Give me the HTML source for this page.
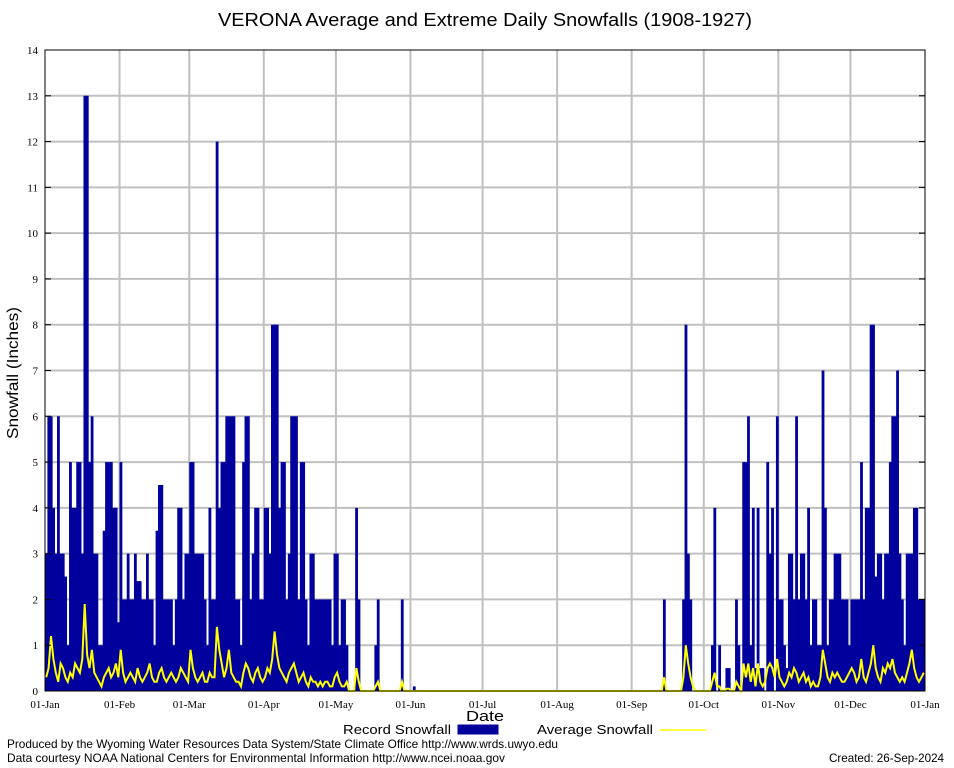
<!DOCTYPE html>
<html><head><meta charset="utf-8"><style>
body{margin:0;background:#fff;width:954px;height:768px;overflow:hidden}
svg{display:block;font-family:"Liberation Sans",sans-serif}
.tk{font-family:"Liberation Serif",serif;font-size:11px}
</style></head><body>
<svg id="chart" width="954" height="768">
<text x="218" y="26" font-size="18" textLength="534" lengthAdjust="spacingAndGlyphs">VERONA Average and Extreme Daily Snowfalls (1908-1927)</text>
<text transform="translate(18,439) rotate(-90)" font-size="16" textLength="132" lengthAdjust="spacingAndGlyphs">Snowfall (Inches)</text>
<text x="466" y="721" font-size="15" textLength="38" lengthAdjust="spacingAndGlyphs">Date</text>
<g id="grid"></g><g id="bars"></g><g id="avg"></g><g id="axes"></g>
<g>
<text x="343" y="734" font-size="13" textLength="108" lengthAdjust="spacingAndGlyphs">Record Snowfall</text>
<rect x="458" y="725" width="40" height="9" fill="#00009c" stroke="#00009c"/>
<text x="537" y="734" font-size="13" textLength="116" lengthAdjust="spacingAndGlyphs">Average Snowfall</text>
<line x1="660" y1="730" x2="706" y2="730" stroke="#ffff00" stroke-width="1.5"/>
</g>
<text x="7" y="748" font-size="12" textLength="551" lengthAdjust="spacingAndGlyphs">Produced by the Wyoming Water Resources Data System/State Climate Office http://www.wrds.uwyo.edu</text>
<text x="7" y="762" font-size="12" textLength="498" lengthAdjust="spacingAndGlyphs">Data courtesy NOAA National Centers for Environmental Information http://www.ncei.noaa.gov</text>
<text x="829" y="762" font-size="12" textLength="115" lengthAdjust="spacingAndGlyphs">Created:  26-Sep-2024</text>
</svg>
<script>
const monthLabels=["01-Jan","01-Feb","01-Mar","01-Apr","01-May","01-Jun","01-Jul","01-Aug","01-Sep","01-Oct","01-Nov","01-Dec","01-Jan"];
const monthStartDays=[0,31,60,91,121,152,182,213,244,274,305,335,366];
const yTicks=[0,1,2,3,4,5,6,7,8,9,10,11,12,13,14];
const recordSnow=[
3,6,6,4,3,6,3,3,2.5,1,
5,4,4,5,5,3,13,13,5,6,
3,3,1,1,3.5,5,5,5,4,4,
1.5,5,2,2,3,2,2,3,2.4,2.4,
2,2,3,2,2,1,3.5,4.5,4.5,2,
2,2,2,1,2,4,4,2,3,3,
5,5,3,3,3,3,2,1,4,2,
2,12,4,5,5,6,6,6,6,2,
2,1,5,6,6,2,3,4,4,2,
2,4,4,3,8,8,8,4,5,5,
2,3,6,6,6,2,5,5,2,1,
3,3,2,2,2,2,2,2,2,1,
3,3,1,2,2,1,0,0,0,4,
2,0,0,0,0,0,0,1,2,0,
0,0,0,0,0,0,0,0,2,0,
0,0,0,0.1,0,0,0,0,0,0,
0,0,0,0,0,0,0,0,0,0,
0,0,0,0,0,0,0,0,0,0,
0,0,0,0,0,0,0,0,0,0,
0,0,0,0,0,0,0,0,0,0,
0,0,0,0,0,0,0,0,0,0,
0,0,0,0,0,0,0,0,0,0,
0,0,0,0,0,0,0,0,0,0,
0,0,0,0,0,0,0,0,0,0,
0,0,0,0,0,0,0,0,0,0,
0,0,0,0,0,0,0,2,0,0,
0,0,0,0,0,2,8,3,2,0,
0,0,0,0,0,0,0,1,4,0,
1,0,0,0.5,0.5,0,0,2,1,0,
5,5,6,1,4,0.5,4,0.5,0.5,0,
5,3,4,0,6,2,2,1,0.5,3,
3,2,6,2,3,3,2,4,1,2,
2,1,1,7,4,1,2,2,3,3,
3,2,2,2,1,2,2,2,2,5,
2,4,4,8,8,2.5,3,3,2,3,
3,5,6,6,7,3,2,1,3,3,
3,4,4,2,2,2];
const avgSnow=[
.3,.5,1.2,.7,.4,.2,.6,.5,.3,.2,
.4,.3,.6,.5,.4,.7,1.9,.8,.5,.9,
.4,.3,.2,.1,.3,.4,.5,.3,.4,.6,
.3,.9,.4,.2,.3,.4,.3,.2,.5,.3,
.2,.3,.4,.6,.3,.2,.2,.4,.5,.3,
.2,.3,.4,.3,.2,.3,.5,.4,.3,.2,
.9,.5,.3,.2,.3,.4,.2,.2,.4,.3,
.3,1.4,.9,.6,.3,.5,.9,.4,.3,.2,
.2,.1,.4,.6,.5,.3,.2,.4,.5,.3,
.2,.3,.5,.4,.7,1.3,.8,.5,.4,.3,
.2,.4,.5,.6,.4,.2,.3,.4,.2,.1,
.3,.2,.2,.1,.2,.1,.2,.2,.1,.1,
.3,.4,.2,.1,.1,.2,0,0,0,.5,
.2,0,0,0,0,0,0,.1,.2,0,
0,0,0,0,0,0,0,0,.2,0,
0,0,0,0,0,0,0,0,0,0,
0,0,0,0,0,0,0,0,0,0,
0,0,0,0,0,0,0,0,0,0,
0,0,0,0,0,0,0,0,0,0,
0,0,0,0,0,0,0,0,0,0,
0,0,0,0,0,0,0,0,0,0,
0,0,0,0,0,0,0,0,0,0,
0,0,0,0,0,0,0,0,0,0,
0,0,0,0,0,0,0,0,0,0,
0,0,0,0,0,0,0,0,0,0,
0,0,0,0,0,0,0,.3,0,0,
0,0,0,0,0,.3,1.0,.6,.3,.1,
0,0,0,0,0,0,0,.2,.4,.1,
.1,0,0,.05,.05,0,0,.2,.1,0,
.6,.3,.6,.2,.5,.1,.6,.2,.1,.2,
.5,.6,.5,.3,.7,.3,.2,.1,.2,.4,
.3,.5,.4,.2,.3,.4,.2,.3,.1,.2,
.1,.1,.3,.9,.6,.3,.2,.4,.3,.4,
.3,.2,.2,.3,.4,.5,.4,.2,.3,.7,
.3,.2,.4,.6,1.0,.5,.3,.2,.5,.4,
.6,.5,.7,.4,.3,.2,.3,.2,.4,.6,
.9,.5,.3,.2,.3,.4];

const NS="http://www.w3.org/2000/svg";
const L=45,R=925,T=50,B=691,NDAYS=366,YMAX=14;
const xs=d=>L+(R-L)*d/NDAYS;
const ys=v=>B-(B-T)*v/YMAX;
function mk(tag,attrs,parent){const e=document.createElementNS(NS,tag);for(const k in attrs)e.setAttribute(k,attrs[k]);parent.appendChild(e);return e;}
const grid=document.getElementById('grid'),axes=document.getElementById('axes'),bars=document.getElementById('bars'),avg=document.getElementById('avg');

yTicks.forEach(v=>{
  const y=ys(v);
  if(v>0&&v<YMAX){const g=mk('line',{x1:L,x2:R,y1:y,y2:y,stroke:'#c0c0c0','stroke-width':2},grid);
  
  }
  const t=mk('text',{x:L-7,y:y+4,'text-anchor':'end',class:'tk'},axes);t.textContent=v;
  
  
  mk('line',{x1:L,x2:L+6,y1:y,y2:y,stroke:'#000'},axes);
  mk('line',{x1:R-6,x2:R,y1:y,y2:y,stroke:'#000'},axes);
});
monthStartDays.forEach((d,i)=>{
  const x=xs(d);
  if(i>0&&i<12){const g=mk('line',{x1:x,x2:x,y1:T,y2:B,stroke:'#c0c0c0','stroke-width':2},grid);
  
  }
  const t=mk('text',{x:x,y:708,'text-anchor':'middle',class:'tk'},axes);t.textContent=monthLabels[i];
  
  
});
recordSnow.forEach((v,d)=>{
  if(v<=0)return;
  const x0=xs(d),x1=xs(d+1);
  const r=mk('rect',{x:x0,y:ys(v),width:x1-x0+0.4,height:B-ys(v),fill:'#00009c'},bars);
  
  
});
const pts=avgSnow.map((v,d)=>xs(d+0.5).toFixed(1)+','+ys(v).toFixed(1)).join(' ');
const pl=mk('polyline',{points:pts,fill:'none',stroke:'#ffff00','stroke-width':2},avg);


const fr=mk('rect',{x:L,y:T,width:R-L,height:B-T,fill:'none',stroke:'#000','stroke-width':1},axes);


</script>
</body></html>
